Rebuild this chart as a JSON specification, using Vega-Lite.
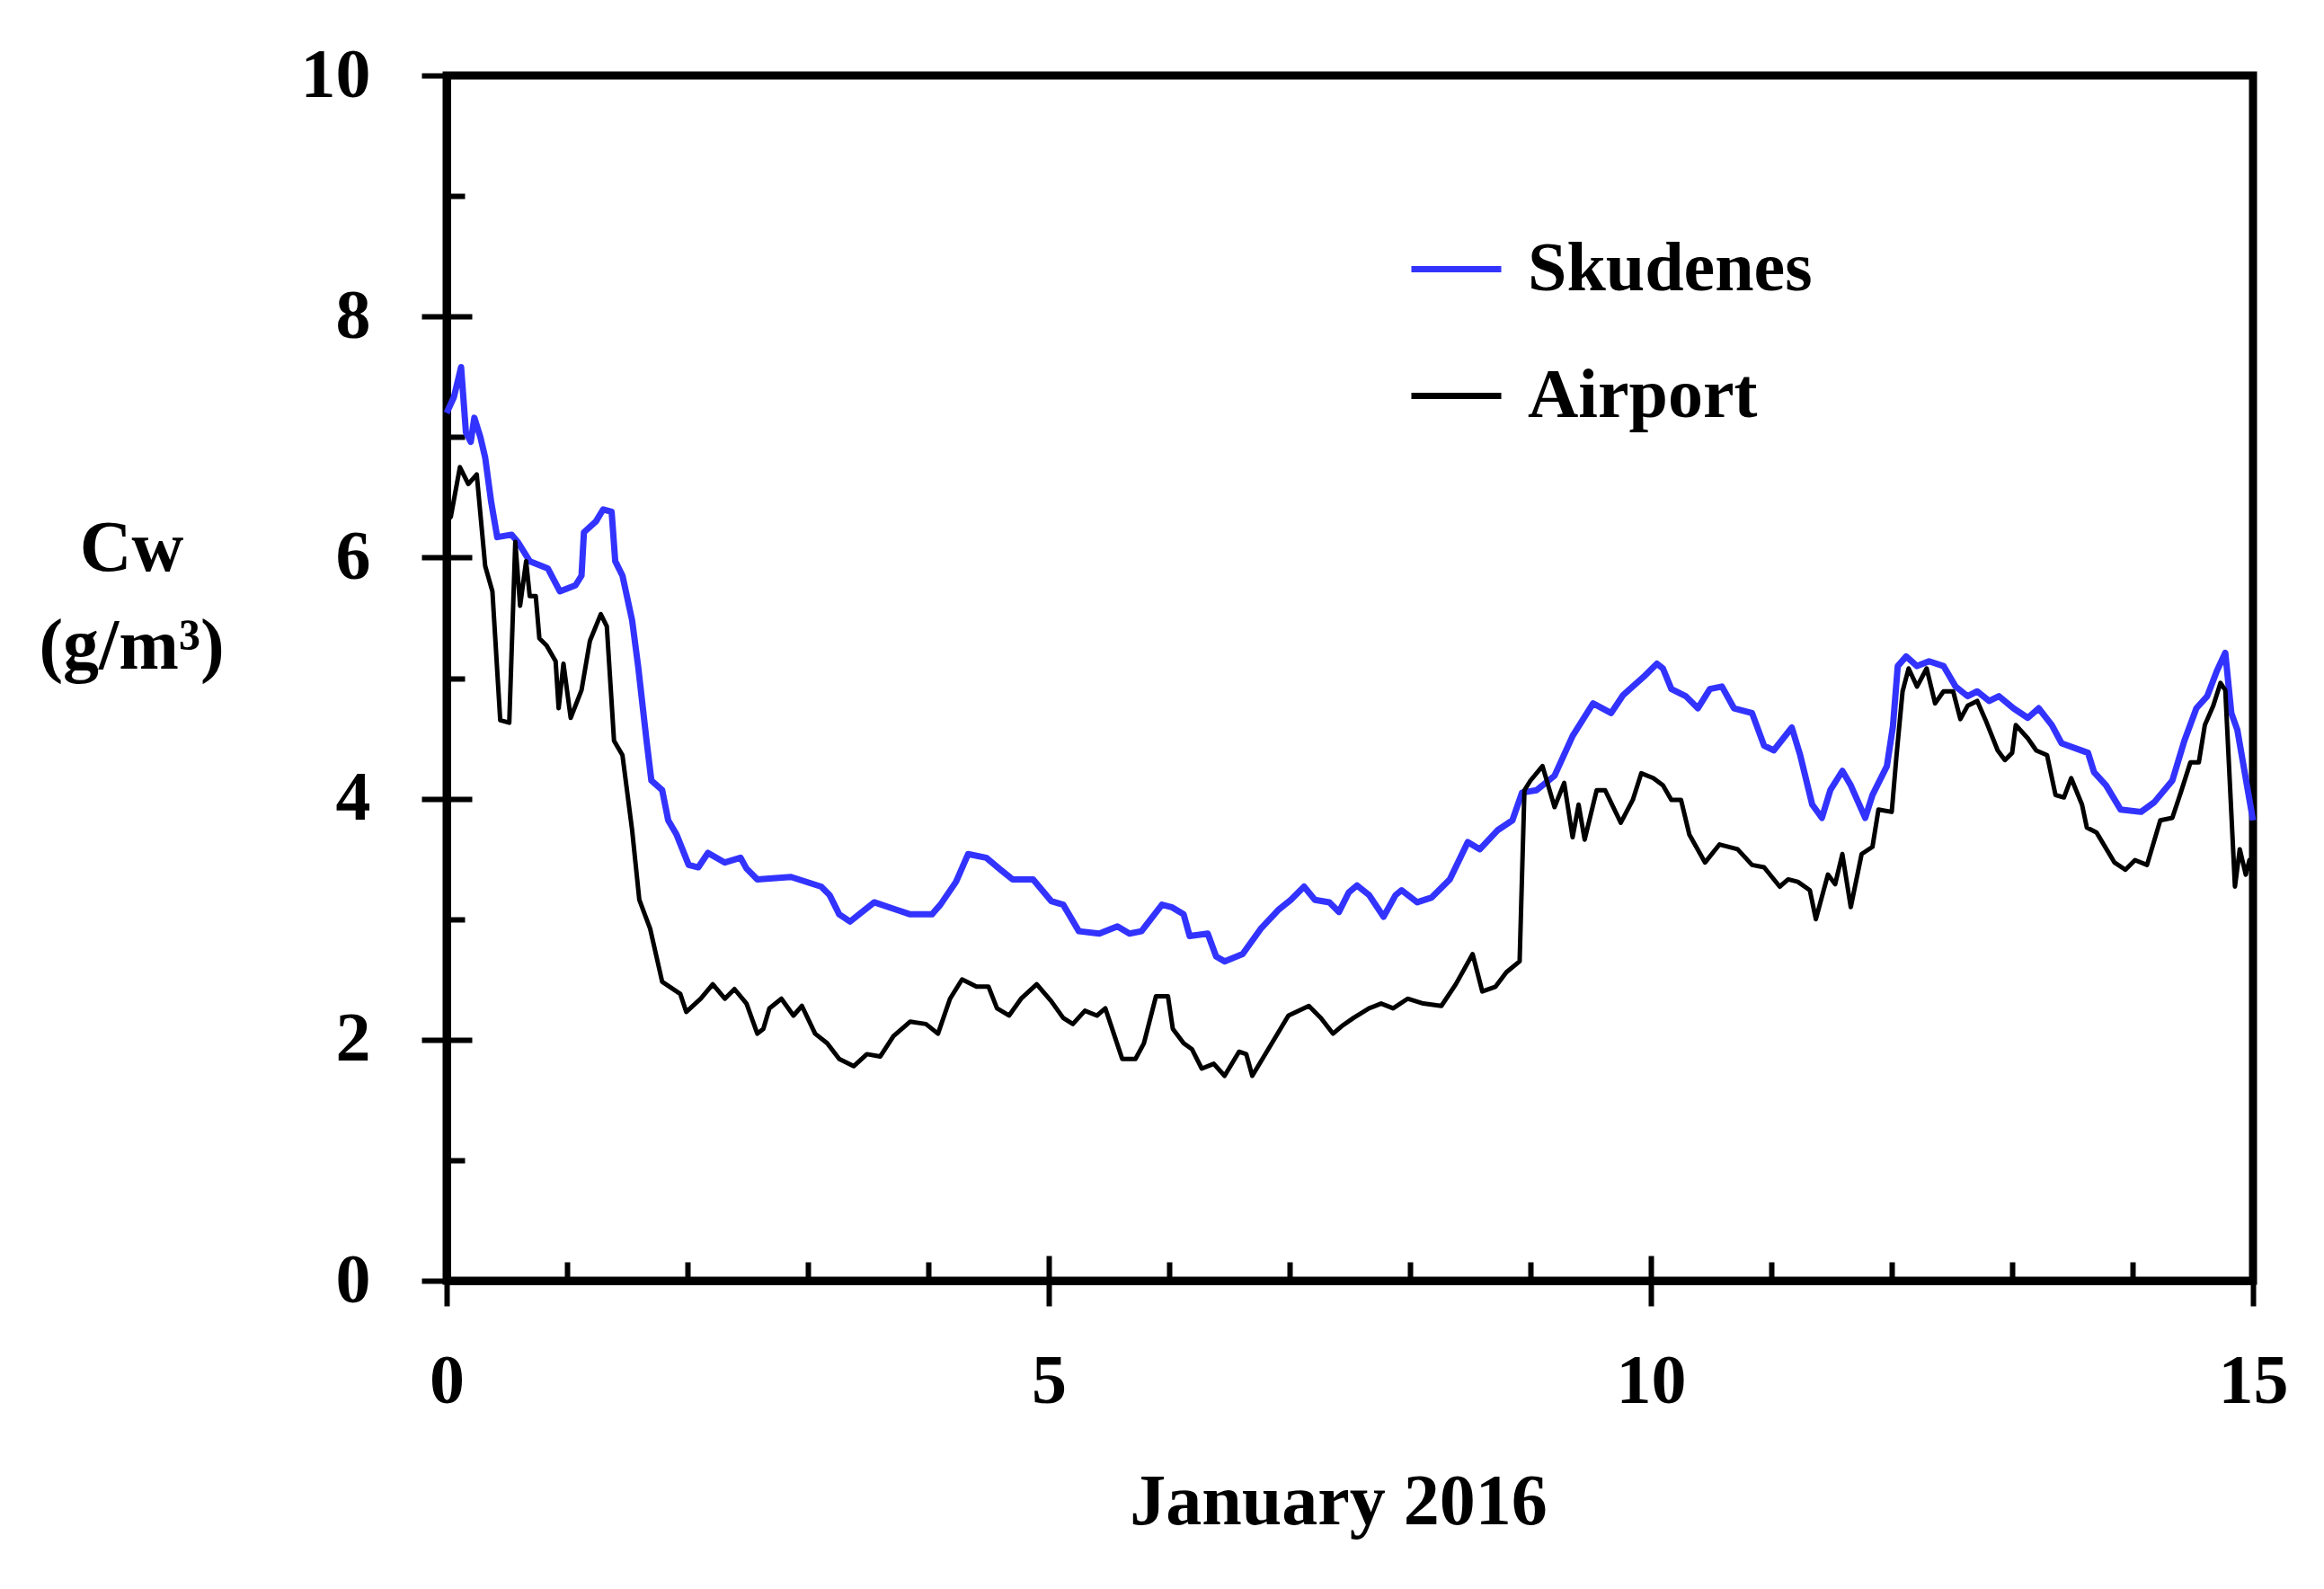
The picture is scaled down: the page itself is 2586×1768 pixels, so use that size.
{
  "$schema": "https://vega.github.io/schema/vega-lite/v6.json",
  "width": 2010,
  "height": 1341,
  "autosize": {"type": "none"},
  "padding": {"left": 497, "top": 84, "right": 79, "bottom": 343},
  "background": "white",
  "config": {
    "view": {"stroke": "black", "strokeWidth": 9},
    "font": "Liberation Serif",
    "axis": {"grid": false, "domainColor": "black", "tickColor": "black", "labelColor": "black", "titleColor": "black"},
    "legend": {"symbolStrokeWidth": 7}
  },
  "datasets": {
    "cw": [
      {"d": 0.0, "v": 7.2, "s": "Skudenes"}, {"d": 0.06, "v": 7.33, "s": "Skudenes"}, {"d": 0.12, "v": 7.58, "s": "Skudenes"}, {"d": 0.16, "v": 7.04, "s": "Skudenes"}, {"d": 0.2, "v": 6.96, "s": "Skudenes"}, {"d": 0.23, "v": 7.16, "s": "Skudenes"}, {"d": 0.28, "v": 7.0, "s": "Skudenes"}, {"d": 0.32, "v": 6.83, "s": "Skudenes"}, {"d": 0.37, "v": 6.46, "s": "Skudenes"}, {"d": 0.42, "v": 6.17, "s": "Skudenes"}, {"d": 0.54, "v": 6.19, "s": "Skudenes"}, {"d": 0.59, "v": 6.13, "s": "Skudenes"}, {"d": 0.69, "v": 5.97, "s": "Skudenes"}, {"d": 0.84, "v": 5.91, "s": "Skudenes"}, {"d": 0.94, "v": 5.72, "s": "Skudenes"}, {"d": 1.07, "v": 5.77, "s": "Skudenes"}, {"d": 1.12, "v": 5.85, "s": "Skudenes"}, {"d": 1.14, "v": 6.21, "s": "Skudenes"}, {"d": 1.24, "v": 6.3, "s": "Skudenes"}, {"d": 1.3, "v": 6.4, "s": "Skudenes"}, {"d": 1.37, "v": 6.38, "s": "Skudenes"}, {"d": 1.4, "v": 5.97, "s": "Skudenes"}, {"d": 1.46, "v": 5.85, "s": "Skudenes"}, {"d": 1.54, "v": 5.48, "s": "Skudenes"}, {"d": 1.59, "v": 5.1, "s": "Skudenes"}, {"d": 1.66, "v": 4.48, "s": "Skudenes"}, {"d": 1.7, "v": 4.15, "s": "Skudenes"}, {"d": 1.79, "v": 4.07, "s": "Skudenes"}, {"d": 1.84, "v": 3.82, "s": "Skudenes"}, {"d": 1.91, "v": 3.7, "s": "Skudenes"}, {"d": 2.01, "v": 3.45, "s": "Skudenes"}, {"d": 2.09, "v": 3.43, "s": "Skudenes"}, {"d": 2.17, "v": 3.55, "s": "Skudenes"}, {"d": 2.31, "v": 3.47, "s": "Skudenes"}, {"d": 2.44, "v": 3.51, "s": "Skudenes"}, {"d": 2.49, "v": 3.42, "s": "Skudenes"}, {"d": 2.58, "v": 3.33, "s": "Skudenes"}, {"d": 2.86, "v": 3.35, "s": "Skudenes"}, {"d": 3.11, "v": 3.27, "s": "Skudenes"}, {"d": 3.18, "v": 3.2, "s": "Skudenes"}, {"d": 3.26, "v": 3.04, "s": "Skudenes"}, {"d": 3.35, "v": 2.98, "s": "Skudenes"}, {"d": 3.55, "v": 3.14, "s": "Skudenes"}, {"d": 3.73, "v": 3.08, "s": "Skudenes"}, {"d": 3.85, "v": 3.04, "s": "Skudenes"}, {"d": 4.03, "v": 3.04, "s": "Skudenes"}, {"d": 4.1, "v": 3.12, "s": "Skudenes"}, {"d": 4.23, "v": 3.31, "s": "Skudenes"}, {"d": 4.33, "v": 3.54, "s": "Skudenes"}, {"d": 4.48, "v": 3.51, "s": "Skudenes"}, {"d": 4.6, "v": 3.41, "s": "Skudenes"}, {"d": 4.7, "v": 3.33, "s": "Skudenes"}, {"d": 4.87, "v": 3.33, "s": "Skudenes"}, {"d": 5.02, "v": 3.15, "s": "Skudenes"}, {"d": 5.12, "v": 3.12, "s": "Skudenes"}, {"d": 5.25, "v": 2.9, "s": "Skudenes"}, {"d": 5.42, "v": 2.88, "s": "Skudenes"}, {"d": 5.57, "v": 2.94, "s": "Skudenes"}, {"d": 5.67, "v": 2.88, "s": "Skudenes"}, {"d": 5.77, "v": 2.9, "s": "Skudenes"}, {"d": 5.94, "v": 3.12, "s": "Skudenes"}, {"d": 6.02, "v": 3.1, "s": "Skudenes"}, {"d": 6.12, "v": 3.04, "s": "Skudenes"}, {"d": 6.17, "v": 2.86, "s": "Skudenes"}, {"d": 6.32, "v": 2.88, "s": "Skudenes"}, {"d": 6.39, "v": 2.69, "s": "Skudenes"}, {"d": 6.46, "v": 2.65, "s": "Skudenes"}, {"d": 6.61, "v": 2.71, "s": "Skudenes"}, {"d": 6.76, "v": 2.92, "s": "Skudenes"}, {"d": 6.91, "v": 3.08, "s": "Skudenes"}, {"d": 7.01, "v": 3.16, "s": "Skudenes"}, {"d": 7.12, "v": 3.27, "s": "Skudenes"}, {"d": 7.21, "v": 3.16, "s": "Skudenes"}, {"d": 7.33, "v": 3.14, "s": "Skudenes"}, {"d": 7.41, "v": 3.06, "s": "Skudenes"}, {"d": 7.49, "v": 3.22, "s": "Skudenes"}, {"d": 7.56, "v": 3.28, "s": "Skudenes"}, {"d": 7.66, "v": 3.2, "s": "Skudenes"}, {"d": 7.78, "v": 3.02, "s": "Skudenes"}, {"d": 7.88, "v": 3.2, "s": "Skudenes"}, {"d": 7.93, "v": 3.24, "s": "Skudenes"}, {"d": 8.06, "v": 3.14, "s": "Skudenes"}, {"d": 8.18, "v": 3.18, "s": "Skudenes"}, {"d": 8.33, "v": 3.33, "s": "Skudenes"}, {"d": 8.48, "v": 3.64, "s": "Skudenes"}, {"d": 8.58, "v": 3.58, "s": "Skudenes"}, {"d": 8.73, "v": 3.74, "s": "Skudenes"}, {"d": 8.85, "v": 3.82, "s": "Skudenes"}, {"d": 8.93, "v": 4.05, "s": "Skudenes"}, {"d": 9.05, "v": 4.07, "s": "Skudenes"}, {"d": 9.2, "v": 4.19, "s": "Skudenes"}, {"d": 9.35, "v": 4.52, "s": "Skudenes"}, {"d": 9.52, "v": 4.79, "s": "Skudenes"}, {"d": 9.67, "v": 4.71, "s": "Skudenes"}, {"d": 9.77, "v": 4.86, "s": "Skudenes"}, {"d": 9.95, "v": 5.02, "s": "Skudenes"}, {"d": 10.05, "v": 5.12, "s": "Skudenes"}, {"d": 10.1, "v": 5.08, "s": "Skudenes"}, {"d": 10.17, "v": 4.91, "s": "Skudenes"}, {"d": 10.29, "v": 4.85, "s": "Skudenes"}, {"d": 10.39, "v": 4.75, "s": "Skudenes"}, {"d": 10.49, "v": 4.91, "s": "Skudenes"}, {"d": 10.59, "v": 4.93, "s": "Skudenes"}, {"d": 10.69, "v": 4.75, "s": "Skudenes"}, {"d": 10.84, "v": 4.71, "s": "Skudenes"}, {"d": 10.94, "v": 4.44, "s": "Skudenes"}, {"d": 11.02, "v": 4.4, "s": "Skudenes"}, {"d": 11.17, "v": 4.59, "s": "Skudenes"}, {"d": 11.24, "v": 4.36, "s": "Skudenes"}, {"d": 11.34, "v": 3.95, "s": "Skudenes"}, {"d": 11.42, "v": 3.84, "s": "Skudenes"}, {"d": 11.49, "v": 4.07, "s": "Skudenes"}, {"d": 11.59, "v": 4.23, "s": "Skudenes"}, {"d": 11.66, "v": 4.11, "s": "Skudenes"}, {"d": 11.78, "v": 3.84, "s": "Skudenes"}, {"d": 11.84, "v": 4.03, "s": "Skudenes"}, {"d": 11.96, "v": 4.27, "s": "Skudenes"}, {"d": 12.01, "v": 4.6, "s": "Skudenes"}, {"d": 12.05, "v": 5.1, "s": "Skudenes"}, {"d": 12.12, "v": 5.18, "s": "Skudenes"}, {"d": 12.21, "v": 5.1, "s": "Skudenes"}, {"d": 12.31, "v": 5.14, "s": "Skudenes"}, {"d": 12.43, "v": 5.1, "s": "Skudenes"}, {"d": 12.53, "v": 4.93, "s": "Skudenes"}, {"d": 12.63, "v": 4.85, "s": "Skudenes"}, {"d": 12.71, "v": 4.89, "s": "Skudenes"}, {"d": 12.81, "v": 4.81, "s": "Skudenes"}, {"d": 12.89, "v": 4.85, "s": "Skudenes"}, {"d": 13.01, "v": 4.75, "s": "Skudenes"}, {"d": 13.13, "v": 4.67, "s": "Skudenes"}, {"d": 13.22, "v": 4.75, "s": "Skudenes"}, {"d": 13.33, "v": 4.61, "s": "Skudenes"}, {"d": 13.41, "v": 4.46, "s": "Skudenes"}, {"d": 13.63, "v": 4.38, "s": "Skudenes"}, {"d": 13.68, "v": 4.22, "s": "Skudenes"}, {"d": 13.78, "v": 4.11, "s": "Skudenes"}, {"d": 13.9, "v": 3.91, "s": "Skudenes"}, {"d": 14.07, "v": 3.89, "s": "Skudenes"}, {"d": 14.18, "v": 3.97, "s": "Skudenes"}, {"d": 14.33, "v": 4.15, "s": "Skudenes"}, {"d": 14.43, "v": 4.48, "s": "Skudenes"}, {"d": 14.53, "v": 4.75, "s": "Skudenes"}, {"d": 14.62, "v": 4.85, "s": "Skudenes"}, {"d": 14.7, "v": 5.06, "s": "Skudenes"}, {"d": 14.77, "v": 5.21, "s": "Skudenes"}, {"d": 14.82, "v": 4.71, "s": "Skudenes"}, {"d": 14.87, "v": 4.57, "s": "Skudenes"}, {"d": 15.0, "v": 3.82, "s": "Skudenes"},
      {"d": 0.0, "v": 6.3, "s": "Airport"}, {"d": 0.035, "v": 6.34, "s": "Airport"}, {"d": 0.11, "v": 6.75, "s": "Airport"}, {"d": 0.18, "v": 6.61, "s": "Airport"}, {"d": 0.25, "v": 6.69, "s": "Airport"}, {"d": 0.32, "v": 5.93, "s": "Airport"}, {"d": 0.38, "v": 5.72, "s": "Airport"}, {"d": 0.445, "v": 4.65, "s": "Airport"}, {"d": 0.52, "v": 4.63, "s": "Airport"}, {"d": 0.57, "v": 6.13, "s": "Airport"}, {"d": 0.61, "v": 5.6, "s": "Airport"}, {"d": 0.66, "v": 5.97, "s": "Airport"}, {"d": 0.69, "v": 5.68, "s": "Airport"}, {"d": 0.74, "v": 5.68, "s": "Airport"}, {"d": 0.77, "v": 5.33, "s": "Airport"}, {"d": 0.83, "v": 5.27, "s": "Airport"}, {"d": 0.905, "v": 5.14, "s": "Airport"}, {"d": 0.93, "v": 4.75, "s": "Airport"}, {"d": 0.97, "v": 5.12, "s": "Airport"}, {"d": 1.03, "v": 4.67, "s": "Airport"}, {"d": 1.12, "v": 4.9, "s": "Airport"}, {"d": 1.19, "v": 5.31, "s": "Airport"}, {"d": 1.28, "v": 5.53, "s": "Airport"}, {"d": 1.33, "v": 5.43, "s": "Airport"}, {"d": 1.39, "v": 4.48, "s": "Airport"}, {"d": 1.46, "v": 4.36, "s": "Airport"}, {"d": 1.54, "v": 3.74, "s": "Airport"}, {"d": 1.6, "v": 3.16, "s": "Airport"}, {"d": 1.69, "v": 2.92, "s": "Airport"}, {"d": 1.79, "v": 2.48, "s": "Airport"}, {"d": 1.94, "v": 2.38, "s": "Airport"}, {"d": 1.99, "v": 2.23, "s": "Airport"}, {"d": 2.11, "v": 2.34, "s": "Airport"}, {"d": 2.21, "v": 2.46, "s": "Airport"}, {"d": 2.31, "v": 2.34, "s": "Airport"}, {"d": 2.39, "v": 2.42, "s": "Airport"}, {"d": 2.49, "v": 2.3, "s": "Airport"}, {"d": 2.58, "v": 2.05, "s": "Airport"}, {"d": 2.63, "v": 2.09, "s": "Airport"}, {"d": 2.68, "v": 2.26, "s": "Airport"}, {"d": 2.78, "v": 2.34, "s": "Airport"}, {"d": 2.88, "v": 2.2, "s": "Airport"}, {"d": 2.95, "v": 2.28, "s": "Airport"}, {"d": 3.06, "v": 2.05, "s": "Airport"}, {"d": 3.16, "v": 1.97, "s": "Airport"}, {"d": 3.26, "v": 1.84, "s": "Airport"}, {"d": 3.38, "v": 1.78, "s": "Airport"}, {"d": 3.49, "v": 1.88, "s": "Airport"}, {"d": 3.6, "v": 1.86, "s": "Airport"}, {"d": 3.71, "v": 2.03, "s": "Airport"}, {"d": 3.85, "v": 2.15, "s": "Airport"}, {"d": 3.98, "v": 2.13, "s": "Airport"}, {"d": 4.08, "v": 2.05, "s": "Airport"}, {"d": 4.18, "v": 2.34, "s": "Airport"}, {"d": 4.28, "v": 2.5, "s": "Airport"}, {"d": 4.4, "v": 2.44, "s": "Airport"}, {"d": 4.5, "v": 2.44, "s": "Airport"}, {"d": 4.57, "v": 2.26, "s": "Airport"}, {"d": 4.67, "v": 2.2, "s": "Airport"}, {"d": 4.77, "v": 2.34, "s": "Airport"}, {"d": 4.9, "v": 2.46, "s": "Airport"}, {"d": 5.02, "v": 2.32, "s": "Airport"}, {"d": 5.12, "v": 2.18, "s": "Airport"}, {"d": 5.2, "v": 2.13, "s": "Airport"}, {"d": 5.3, "v": 2.24, "s": "Airport"}, {"d": 5.4, "v": 2.2, "s": "Airport"}, {"d": 5.47, "v": 2.26, "s": "Airport"}, {"d": 5.54, "v": 2.05, "s": "Airport"}, {"d": 5.61, "v": 1.84, "s": "Airport"}, {"d": 5.72, "v": 1.84, "s": "Airport"}, {"d": 5.79, "v": 1.97, "s": "Airport"}, {"d": 5.89, "v": 2.36, "s": "Airport"}, {"d": 5.99, "v": 2.36, "s": "Airport"}, {"d": 6.03, "v": 2.09, "s": "Airport"}, {"d": 6.12, "v": 1.97, "s": "Airport"}, {"d": 6.19, "v": 1.92, "s": "Airport"}, {"d": 6.27, "v": 1.76, "s": "Airport"}, {"d": 6.37, "v": 1.8, "s": "Airport"}, {"d": 6.46, "v": 1.7, "s": "Airport"}, {"d": 6.58, "v": 1.9, "s": "Airport"}, {"d": 6.64, "v": 1.88, "s": "Airport"}, {"d": 6.69, "v": 1.7, "s": "Airport"}, {"d": 6.81, "v": 1.9, "s": "Airport"}, {"d": 6.99, "v": 2.2, "s": "Airport"}, {"d": 7.16, "v": 2.28, "s": "Airport"}, {"d": 7.26, "v": 2.18, "s": "Airport"}, {"d": 7.36, "v": 2.05, "s": "Airport"}, {"d": 7.43, "v": 2.11, "s": "Airport"}, {"d": 7.53, "v": 2.18, "s": "Airport"}, {"d": 7.66, "v": 2.26, "s": "Airport"}, {"d": 7.76, "v": 2.3, "s": "Airport"}, {"d": 7.86, "v": 2.26, "s": "Airport"}, {"d": 7.98, "v": 2.34, "s": "Airport"}, {"d": 8.11, "v": 2.3, "s": "Airport"}, {"d": 8.26, "v": 2.28, "s": "Airport"}, {"d": 8.38, "v": 2.46, "s": "Airport"}, {"d": 8.52, "v": 2.71, "s": "Airport"}, {"d": 8.6, "v": 2.4, "s": "Airport"}, {"d": 8.71, "v": 2.44, "s": "Airport"}, {"d": 8.8, "v": 2.56, "s": "Airport"}, {"d": 8.91, "v": 2.65, "s": "Airport"}, {"d": 8.95, "v": 4.07, "s": "Airport"}, {"d": 9.0, "v": 4.15, "s": "Airport"}, {"d": 9.1, "v": 4.27, "s": "Airport"}, {"d": 9.2, "v": 3.93, "s": "Airport"}, {"d": 9.28, "v": 4.13, "s": "Airport"}, {"d": 9.35, "v": 3.68, "s": "Airport"}, {"d": 9.4, "v": 3.95, "s": "Airport"}, {"d": 9.45, "v": 3.66, "s": "Airport"}, {"d": 9.55, "v": 4.07, "s": "Airport"}, {"d": 9.62, "v": 4.07, "s": "Airport"}, {"d": 9.75, "v": 3.8, "s": "Airport"}, {"d": 9.85, "v": 3.99, "s": "Airport"}, {"d": 9.92, "v": 4.21, "s": "Airport"}, {"d": 10.02, "v": 4.17, "s": "Airport"}, {"d": 10.1, "v": 4.11, "s": "Airport"}, {"d": 10.17, "v": 3.99, "s": "Airport"}, {"d": 10.25, "v": 3.99, "s": "Airport"}, {"d": 10.32, "v": 3.7, "s": "Airport"}, {"d": 10.45, "v": 3.47, "s": "Airport"}, {"d": 10.57, "v": 3.62, "s": "Airport"}, {"d": 10.72, "v": 3.58, "s": "Airport"}, {"d": 10.84, "v": 3.45, "s": "Airport"}, {"d": 10.94, "v": 3.43, "s": "Airport"}, {"d": 11.07, "v": 3.27, "s": "Airport"}, {"d": 11.14, "v": 3.33, "s": "Airport"}, {"d": 11.22, "v": 3.31, "s": "Airport"}, {"d": 11.32, "v": 3.24, "s": "Airport"}, {"d": 11.37, "v": 3.0, "s": "Airport"}, {"d": 11.47, "v": 3.37, "s": "Airport"}, {"d": 11.53, "v": 3.29, "s": "Airport"}, {"d": 11.59, "v": 3.54, "s": "Airport"}, {"d": 11.66, "v": 3.1, "s": "Airport"}, {"d": 11.75, "v": 3.54, "s": "Airport"}, {"d": 11.84, "v": 3.6, "s": "Airport"}, {"d": 11.89, "v": 3.91, "s": "Airport"}, {"d": 12.0, "v": 3.89, "s": "Airport"}, {"d": 12.04, "v": 4.36, "s": "Airport"}, {"d": 12.09, "v": 4.89, "s": "Airport"}, {"d": 12.14, "v": 5.08, "s": "Airport"}, {"d": 12.21, "v": 4.93, "s": "Airport"}, {"d": 12.29, "v": 5.08, "s": "Airport"}, {"d": 12.36, "v": 4.79, "s": "Airport"}, {"d": 12.43, "v": 4.89, "s": "Airport"}, {"d": 12.51, "v": 4.89, "s": "Airport"}, {"d": 12.57, "v": 4.66, "s": "Airport"}, {"d": 12.63, "v": 4.77, "s": "Airport"}, {"d": 12.71, "v": 4.81, "s": "Airport"}, {"d": 12.78, "v": 4.65, "s": "Airport"}, {"d": 12.88, "v": 4.4, "s": "Airport"}, {"d": 12.94, "v": 4.32, "s": "Airport"}, {"d": 13.0, "v": 4.38, "s": "Airport"}, {"d": 13.03, "v": 4.61, "s": "Airport"}, {"d": 13.13, "v": 4.5, "s": "Airport"}, {"d": 13.2, "v": 4.4, "s": "Airport"}, {"d": 13.29, "v": 4.36, "s": "Airport"}, {"d": 13.36, "v": 4.03, "s": "Airport"}, {"d": 13.43, "v": 4.01, "s": "Airport"}, {"d": 13.49, "v": 4.17, "s": "Airport"}, {"d": 13.58, "v": 3.95, "s": "Airport"}, {"d": 13.62, "v": 3.76, "s": "Airport"}, {"d": 13.7, "v": 3.72, "s": "Airport"}, {"d": 13.85, "v": 3.47, "s": "Airport"}, {"d": 13.94, "v": 3.41, "s": "Airport"}, {"d": 14.02, "v": 3.49, "s": "Airport"}, {"d": 14.12, "v": 3.45, "s": "Airport"}, {"d": 14.23, "v": 3.82, "s": "Airport"}, {"d": 14.33, "v": 3.84, "s": "Airport"}, {"d": 14.4, "v": 4.05, "s": "Airport"}, {"d": 14.48, "v": 4.3, "s": "Airport"}, {"d": 14.55, "v": 4.3, "s": "Airport"}, {"d": 14.6, "v": 4.61, "s": "Airport"}, {"d": 14.67, "v": 4.77, "s": "Airport"}, {"d": 14.73, "v": 4.96, "s": "Airport"}, {"d": 14.77, "v": 4.9, "s": "Airport"}, {"d": 14.85, "v": 3.27, "s": "Airport"}, {"d": 14.89, "v": 3.58, "s": "Airport"}, {"d": 14.94, "v": 3.37, "s": "Airport"}, {"d": 14.97, "v": 3.49, "s": "Airport"}, {"d": 15.0, "v": 3.35, "s": "Airport"}
    ]
  },
  "data": {"name": "cw"},
  "layer": [
    {
      "mark": {"type": "point", "opacity": 0},
      "encoding": {
        "x": {"field": "d", "type": "quantitative", "scale": {"domain": [0, 15], "nice": false, "zero": false},
          "axis": {"orient": "bottom", "values": [1, 2, 3, 4, 6, 7, 8, 9, 11, 12, 13, 14], "tickSize": -21, "tickWidth": 6, "labels": false, "domain": false, "title": null}},
        "y": {"field": "v", "type": "quantitative", "scale": {"domain": [0, 10], "nice": false, "zero": false},
          "axis": {"orient": "left", "values": [1, 3, 5, 7, 9], "tickSize": -20, "tickWidth": 6, "labels": false, "domain": false, "title": null}}
      }
    },
    {
      "mark": {"type": "point", "opacity": 0},
      "encoding": {
        "x": {"field": "d", "type": "quantitative",
          "axis": {"orient": "bottom", "values": [0, 5, 10, 15], "tickSize": -28, "tickWidth": 6, "labels": false, "domain": false, "title": null}},
        "y": {"field": "v", "type": "quantitative",
          "axis": {"orient": "left", "values": [0, 2, 4, 6, 8, 10], "tickSize": -28, "tickWidth": 6, "labels": false, "domain": false, "title": null}}
      }
    },
    {
      "transform": [{"filter": "datum.s === 'Skudenes'"}],
      "mark": {"type": "line", "strokeJoin": "round", "strokeWidth": 7},
      "encoding": {
        "x": {"field": "d", "type": "quantitative",
          "axis": {"orient": "bottom", "values": [0, 5, 10, 15], "tickSize": 28, "tickWidth": 6, "domain": true, "domainWidth": 9,
            "labelFont": "Liberation Serif", "labelFontSize": 78, "labelFontWeight": "bold", "labelPadding": 45, "labelFlush": false,
            "title": "January 2016", "titleFont": "Liberation Serif", "titleFontSize": 80, "titleFontWeight": "bold",
            "titleX": 992, "titleY": 270, "titleBaseline": "alphabetic", "titleAlign": "center", "titleAnchor": null}},
        "y": {"field": "v", "type": "quantitative",
          "axis": {"orient": "left", "values": [0, 2, 4, 6, 8, 10], "tickSize": 28, "tickWidth": 6, "domain": true, "domainWidth": 9,
            "labelFont": "Liberation Serif", "labelFontSize": 78, "labelFontWeight": "bold", "labelPadding": 57, "labelFlush": false,
            "title": ["Cw", "(g/m³)"], "titleFont": "Liberation Serif", "titleFontSize": 80, "titleFontWeight": "bold",
            "titleAngle": 0, "titleX": -351, "titleY": 550, "titleAlign": "center", "titleBaseline": "alphabetic", "titleLineHeight": 109}},
        "color": {"field": "s", "type": "nominal", "sort": ["Skudenes", "Airport"],
          "scale": {"domain": ["Skudenes", "Airport"], "range": ["#3333ff", "#000000"]},
          "legend": {"orient": "none", "legendX": 1070, "legendY": 162, "title": null, "symbolType": "stroke", "symbolSize": 10000,
            "symbolStrokeWidth": 7, "labelFont": "Liberation Serif", "labelFontSize": 78, "labelFontWeight": "bold", "labelColor": "black",
            "labelOffset": 26, "rowPadding": 48, "labelLimit": 1000}}
      }
    },
    {
      "transform": [{"filter": "datum.s === 'Airport'"}],
      "mark": {"type": "line", "strokeJoin": "round", "strokeWidth": 5},
      "encoding": {
        "x": {"field": "d", "type": "quantitative", "axis": null},
        "y": {"field": "v", "type": "quantitative", "axis": null},
        "color": {"field": "s", "type": "nominal", "sort": ["Skudenes", "Airport"]}
      }
    }
  ],
  "resolve": {"axis": {"x": "independent", "y": "independent"}}
}
